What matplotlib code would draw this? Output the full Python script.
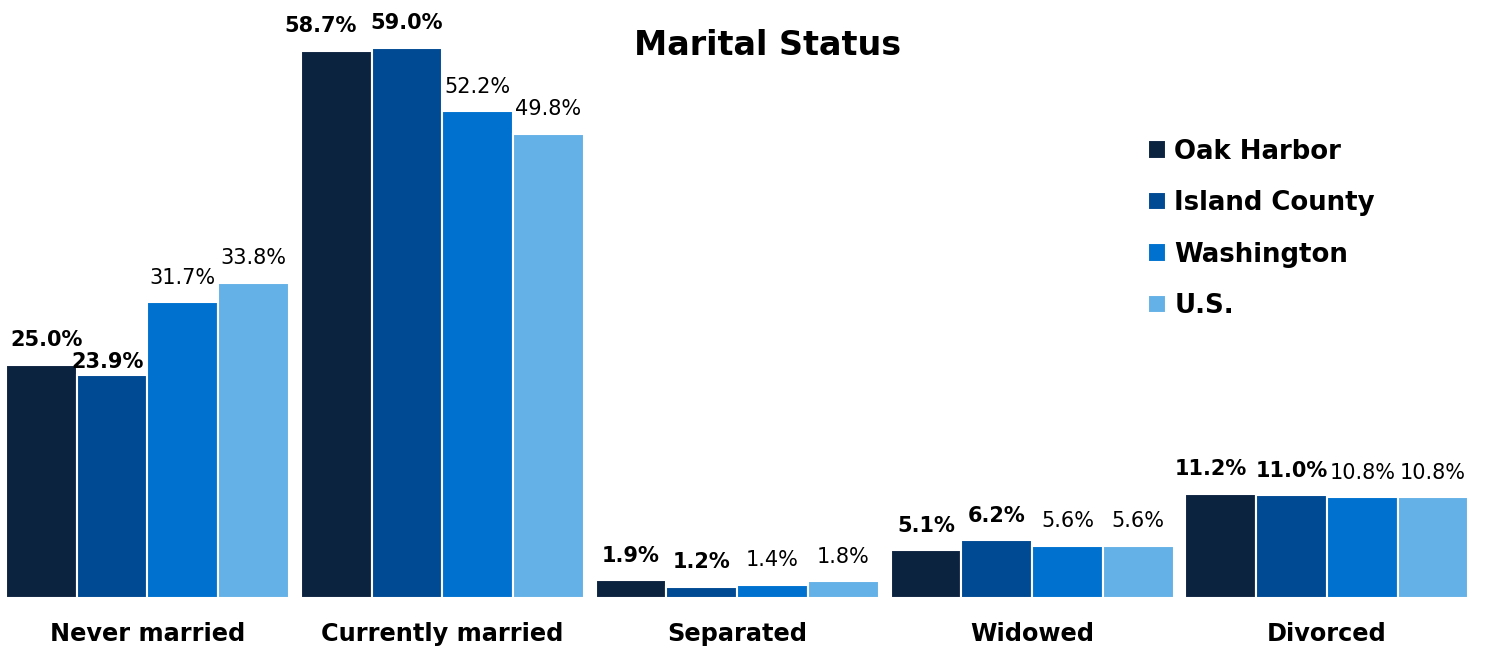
import matplotlib
matplotlib.use("Agg")
import matplotlib.pyplot as plt
import numpy as np

categories = ["Never married", "Currently married", "Separated", "Widowed", "Divorced"]
series_names = ["Oak Harbor", "Island County", "Washington", "U.S."]
oak_harbor = [25.0, 58.7, 1.9, 5.1, 11.2]
island_county = [23.9, 59.0, 1.2, 6.2, 11.0]
washington = [31.7, 52.2, 1.4, 5.6, 10.8]
us = [33.8, 49.8, 1.8, 5.6, 10.8]
colors = ["#0C2340", "#004A94", "#0071CE", "#64B1E8"]
label_bold = [True, True, False, False]

# manual label nudges in points: (series, category) -> (dx, dy)
label_nudge = {(0, 0): (3.5, 0), (1, 0): (-3.5, -8), (0, 1): (-11.5, 0), (0, 4): (-7, 0)}

plt.rcParams['font.family'] = ['DejaVu Sans']

fig = plt.figure(figsize=(14.87, 6.5), dpi=100)
ax = fig.add_axes([0.0, 0.08, 0.9915, 0.918])

x = np.arange(len(categories))
w = 0.24
all_series = [oak_harbor, island_county, washington, us]
for i, (vals, c) in enumerate(zip(all_series, colors)):
    pos = x + (i - 1.5) * w
    bars = ax.bar(pos, vals, width=w, color=c, edgecolor="white", linewidth=1.5,
                  label=series_names[i])
    for j, (b, v) in enumerate(zip(bars, vals)):
        dx, dy = label_nudge.get((i, j), (0, 0))
        ax.annotate(f"{v:.1f}%", (b.get_x() + b.get_width() / 2, v),
                    xytext=(dx, 10.5 + dy), textcoords="offset points", ha="center", va="bottom",
                    fontsize=15, fontweight="bold" if label_bold[i] else "normal",
                    color="black")

ax.set_xlim(-0.5, 4.5)
ax.set_ylim(0, 64)
ax.set_xticks(x)
ax.set_xticklabels(categories, fontsize=17.3, fontweight="bold")
ax.tick_params(axis="x", length=0, pad=17)
ax.set_yticks([])
for s in ax.spines.values():
    s.set_visible(False)

fig.text(0.516, 0.93, "Marital Status", ha="center", va="center", fontsize=24,
         fontweight="bold")

leg = ax.legend(loc="upper left", bbox_to_anchor=(0.763, 0.809), frameon=False,
                prop={"size": 18.7, "weight": "bold"}, handlelength=0.7, handleheight=0.7,
                handletextpad=0.3, labelspacing=0.98)

fig.savefig("out.png", dpi=100)
